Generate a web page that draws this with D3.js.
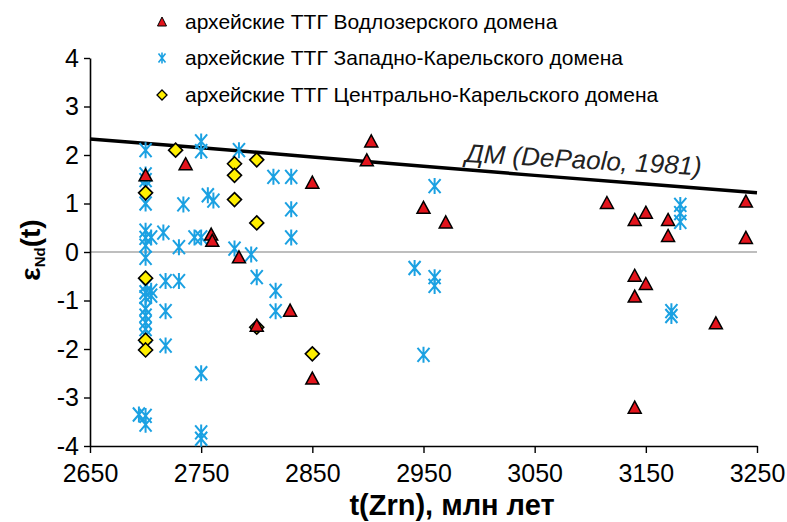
<!DOCTYPE html>
<html>
<head>
<meta charset="utf-8">
<script src="https://cdn.jsdelivr.net/npm/d3@7"></script>
<style>
  body { margin: 0; background: #fff; }
  svg { font-family: "Liberation Sans", Arial, sans-serif; }
</style>
</head>
<body>
<svg width="787" height="522"></svg>
<script>
// archean TTG, Vodlozero domain  [t(Zrn), eNd]
var vodlozero = [
  [2700, 1.57], [2736, 1.8], [2759, 0.35], [2760, 0.22], [2784, -0.12],
  [2800, -1.53], [2830, -1.22], [2850, 1.42], [2850, -2.62], [2899, 1.88],
  [2903, 2.27], [2950, 0.9], [2970, 0.6], [3115, 1.0], [3140, 0.65],
  [3150, 0.8], [3170, 0.65], [3170, 0.32], [3140, -0.5], [3150, -0.67],
  [3140, -0.93], [3213, -1.48], [3140, -3.22], [3240, 1.03], [3240, 0.28]
];

// West Karelian domain
var westKarelia = [
  [2700, 2.1], [2700, 1.6], [2700, 1.48], [2700, 1.35], [2700, 1.0],
  [2700, 0.44], [2700, 0.29], [2700, 0.13], [2700, -0.12], [2700, -0.7],
  [2700, -0.83], [2700, -0.93], [2700, -1.17], [2700, -1.31], [2700, -1.45],
  [2700, -1.59], [2700, -1.73], [2700, -3.38], [2700, -3.56], [2694, -3.35],
  [2705, 0.3], [2705, -0.8], [2705, -0.9], [2716, 0.4], [2718, -0.6],
  [2718, -1.22], [2718, -1.93], [2730, 0.1], [2730, -0.6], [2734, 0.98],
  [2744, 0.3], [2750, 2.28], [2750, 2.08], [2750, 0.3], [2750, -2.5],
  [2750, -3.72], [2750, -3.85], [2756, 1.17], [2761, 1.06], [2780, 0.07],
  [2784, 2.1], [2795, -0.05], [2800, -0.52], [2815, 1.55], [2817, -0.8],
  [2817, -1.22], [2831, 1.55], [2831, 0.88], [2831, 0.3], [2942, -0.33],
  [2960, 1.36], [2960, -0.52], [2960, -0.7], [2950, -2.12], [3173, -1.22],
  [3173, -1.32], [3181, 0.97], [3181, 0.8], [3181, 0.62]
];

// Central Karelian domain
var centralKarelia = [
  [2700, 1.22], [2700, -0.54], [2700, -1.82], [2700, -2.02], [2727, 2.1],
  [2780, 1.82], [2780, 1.58], [2780, 1.08], [2800, 1.9], [2800, 0.6],
  [2800, -1.55], [2850, -2.1]
];

// depleted mantle curve (DePaolo, 1981)
var depletedMantle = [
  [2650, 2.33], [2750, 2.15], [2850, 1.96], [2950, 1.77],
  [3050, 1.58], [3150, 1.40], [3250, 1.22]
];

var xTicks = [2650, 2750, 2850, 2950, 3050, 3150, 3250];
var yTicks = [-4, -3, -2, -1, 0, 1, 2, 3, 4];

var legendLabels = [
  "архейские ТТГ Водлозерского домена",
  "архейские ТТГ Западно-Карельского домена",
  "архейские ТТГ Центрально-Карельского домена"
];

var svg = d3.select("svg");

var x = d3.scaleLinear().domain([2650, 3250]).range([90, 757]);
var y = d3.scaleLinear().domain([-4, 4]).range([446, 58]);

var red = "#e3141c", blue = "#1ba1e2", yellow = "#ffef00";

// zero line
svg.append("line")
    .attr("x1", x(2650)).attr("x2", x(3250))
    .attr("y1", y(0)).attr("y2", y(0))
    .attr("stroke", "#7f7f7f").attr("stroke-width", 1.2);

// axes
var xAxis = svg.append("g")
    .attr("transform", "translate(0," + y(-4) + ")")
    .call(d3.axisBottom(x).tickValues(xTicks).tickFormat(d3.format("d"))
      .tickSize(7).tickSizeOuter(0).tickPadding(11));

var yAxis = svg.append("g")
    .attr("transform", "translate(" + x(2650) + ",0)")
    .call(d3.axisLeft(y).tickValues(yTicks).tickFormat(d3.format("d"))
      .tickSize(6).tickSizeOuter(0).tickPadding(5));

[xAxis, yAxis].forEach(function(g) {
  g.select(".domain").attr("stroke", "#000").attr("stroke-width", 1.6);
  g.selectAll(".tick line").attr("stroke", "#000").attr("stroke-width", 1.4);
  g.selectAll(".tick text").attr("fill", "#000")
    .style("font-size", "25px").style("font-family", "Liberation Sans, Arial, sans-serif");
});
yAxis.selectAll(".tick text").text(function(d) { return d < 0 ? "-" + Math.abs(d) : d; });

// DM line
var line = d3.line()
    .x(function(d) { return x(d[0]); })
    .y(function(d) { return y(d[1]); });

svg.append("path")
    .datum(depletedMantle)
    .attr("d", line)
    .attr("fill", "none")
    .attr("stroke", "#000")
    .attr("stroke-width", 3.5);

svg.append("text")
    .attr("transform", "translate(465,162) rotate(3.2)")
    .attr("font-style", "italic")
    .attr("font-size", "26px")
    .attr("fill", "#222")
    .text("ДМ (DePaolo, 1981)");

// markers
function asterisk(w, h) {
  return "M" + (-w) + "," + (-h) + "L" + w + "," + h +
         "M" + w + "," + (-h) + "L" + (-w) + "," + h +
         "M0," + (-h - 1) + "L0," + (h + 1);
}

svg.append("g").selectAll("path")
    .data(westKarelia)
  .enter().append("path")
    .attr("transform", function(d) { return "translate(" + x(d[0]) + "," + y(d[1]) + ")"; })
    .attr("d", asterisk(6, 7))
    .attr("fill", "none")
    .attr("stroke", blue)
    .attr("stroke-width", 2);

svg.append("g").selectAll("path")
    .data(centralKarelia)
  .enter().append("path")
    .attr("transform", function(d) { return "translate(" + x(d[0]) + "," + y(d[1]) + ")"; })
    .attr("d", "M0,-7L7,0L0,7L-7,0Z")
    .attr("fill", yellow)
    .attr("stroke", "#000")
    .attr("stroke-width", 1.6);

svg.append("g").selectAll("path")
    .data(vodlozero)
  .enter().append("path")
    .attr("transform", function(d) { return "translate(" + x(d[0]) + "," + y(d[1]) + ")"; })
    .attr("d", "M0,-7L6.5,5L-6.5,5Z")
    .attr("fill", red)
    .attr("stroke", "#000")
    .attr("stroke-width", 1.5);

// legend
var legend = svg.append("g");
var legendY = [22, 58, 95];

legend.append("path")
    .attr("transform", "translate(162," + legendY[0] + ")")
    .attr("d", "M0,-5L4.5,4L-4.5,4Z")
    .attr("fill", red).attr("stroke", "#000").attr("stroke-width", 1);
legend.append("path")
    .attr("transform", "translate(162," + legendY[1] + ")")
    .attr("d", asterisk(3.5, 4.5))
    .attr("fill", "none").attr("stroke", blue).attr("stroke-width", 1.6);
legend.append("path")
    .attr("transform", "translate(162," + legendY[2] + ")")
    .attr("d", "M0,-5L5,0L0,5L-5,0Z")
    .attr("fill", yellow).attr("stroke", "#000").attr("stroke-width", 1.3);

legend.selectAll("text")
    .data(legendLabels)
  .enter().append("text")
    .attr("x", 185)
    .attr("y", function(d, i) { return legendY[i]; })
    .attr("dy", "0.35em")
    .attr("font-size", "21px")
    .attr("fill", "#000")
    .text(function(d) { return d; });

// axis titles
svg.append("text")
    .attr("x", 452).attr("y", 515)
    .attr("text-anchor", "middle")
    .attr("font-size", "29px")
    .attr("font-weight", "bold")
    .text("t(Zrn), млн лет");

var yTitle = svg.append("text")
    .attr("transform", "translate(40,250) rotate(-90)")
    .attr("text-anchor", "middle")
    .attr("font-size", "28px")
    .attr("font-weight", "bold");
yTitle.append("tspan").text("ε");
yTitle.append("tspan").attr("font-size", "15px").attr("dy", "5").text("Nd");
yTitle.append("tspan").attr("dy", "-5").text("(t)");
</script>
</body>
</html>
